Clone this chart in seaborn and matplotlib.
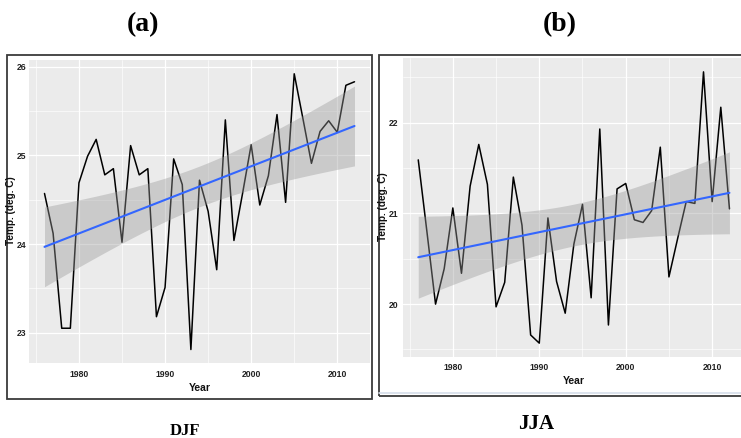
import numpy as np
import pandas as pd
import matplotlib
matplotlib.use("Agg")
import matplotlib.pyplot as plt
import seaborn as sns
from matplotlib.patches import Rectangle
from matplotlib.lines import Line2D
from matplotlib.ticker import MultipleLocator, FixedLocator
from matplotlib import font_manager

# ---------------- data ----------------
years = list(range(1976, 2013))
djf_temp = [24.57, 24.12, 23.05, 23.05, 24.69, 24.99, 25.18, 24.78, 24.85, 24.02,
            25.11, 24.78, 24.85, 23.18, 23.51, 24.96, 24.67, 22.81, 24.72, 24.37,
            23.71, 25.40, 24.04, 24.57, 25.12, 24.44, 24.77, 25.46, 24.47, 25.92,
            25.42, 24.91, 25.27, 25.39, 25.26, 25.79, 25.83]
jja_temp = [21.59, 20.80, 20.00, 20.39, 21.06, 20.34, 21.30, 21.76, 21.32, 19.97,
            20.24, 21.40, 20.87, 19.66, 19.57, 20.95, 20.25, 19.90, 20.66, 21.10,
            20.07, 21.93, 19.77, 21.27, 21.33, 20.93, 20.90, 21.03, 21.73, 20.30,
            20.72, 21.13, 21.11, 22.56, 21.13, 22.17, 21.05]
panel_titles = ["(a)", "(b)"]
season_labels = ["DJF", "JJA"]
x_ticks = [1980, 1990, 2000, 2010]
djf_yticks = [23, 24, 25, 26]
jja_yticks = [20, 21, 22]
y_label = "Temp. (deg. C)"
x_label = "Year"

# ---------------- style ----------------
sns.set_style("darkgrid", {"axes.facecolor": "#EBEBEB", "grid.color": "white"})
plt.rcParams["font.family"] = ["Liberation Sans", "DejaVu Sans"]

installed = {f.name for f in font_manager.fontManager.ttflist}
NARROW = [f for f in ["Liberation Sans Narrow", "DejaVu Sans Condensed"] if f in installed]
NARROW = (NARROW[:1] or []) + ["Liberation Sans", "DejaVu Sans"]
has_narrow = NARROW[0] not in ("Liberation Sans",)
TICK_SIZE = 7 if has_narrow else 6.2

W, H = 741, 438
fig = plt.figure(figsize=(W / 100, H / 100), dpi=100)
fig.patch.set_facecolor("white")


def box(x0, y0, x1, y1):
    return [x0 / W, 1 - y1 / H, (x1 - x0) / W, (y1 - y0) / H]


def fx(x):
    return x / W


def fy(y):
    return 1 - y / H


def panel(rect, vals, yticks, ylab_px, xlab_px, ytick_pad):
    ax = fig.add_axes(box(*rect))
    df = pd.DataFrame({"year": years, "temp": vals})
    sns.lineplot(data=df, x="year", y="temp", ax=ax, color="black", lw=1.1, zorder=2)
    # analytic 95% confidence band of linear fit (as ggplot geom_smooth)
    x = np.array(years, float)
    y = np.array(vals, float)
    n = len(x)
    b, a = np.polyfit(x, y, 1)
    resid = y - (a + b * x)
    s = np.sqrt(np.sum(resid ** 2) / (n - 2))
    xs = np.linspace(x.min(), x.max(), 80)
    se = s * np.sqrt(1 / n + (xs - x.mean()) ** 2 / np.sum((x - x.mean()) ** 2))
    t = 2.03
    fit = a + b * xs
    ax.fill_between(xs, fit - t * se, fit + t * se, color="#999999", alpha=0.4,
                    lw=0, zorder=3)
    sns.regplot(data=df, x="year", y="temp", ax=ax, scatter=False, ci=None,
                color="#3366FF", line_kws={"lw": 1.5, "zorder": 4}, truncate=True)
    ax.set_xlim(1976 - 1.8, 2012 + 1.8)
    lo, hi = min(vals), max(vals)
    pad = (hi - lo) * 0.05
    ax.set_ylim(lo - pad, hi + pad)
    ax.xaxis.set_major_locator(FixedLocator(x_ticks))
    ax.xaxis.set_minor_locator(FixedLocator([1975, 1985, 1995, 2005]))
    ax.yaxis.set_major_locator(FixedLocator(yticks))
    ax.yaxis.set_minor_locator(MultipleLocator(0.5))
    ax.grid(which="major", color="white", lw=0.9)
    ax.grid(which="minor", color="white", lw=0.45)
    ax.set_axisbelow(True)
    for sp in ax.spines.values():
        sp.set_visible(False)
    ax.tick_params(axis="both", which="major", length=1.5, width=0.6, color="#555555",
                   labelsize=TICK_SIZE, labelcolor="#222222")
    ax.tick_params(axis="x", which="major", pad=3)
    ax.tick_params(axis="y", which="major", pad=ytick_pad)
    ax.tick_params(which="minor", length=0)
    for lab in ax.get_xticklabels() + ax.get_yticklabels():
        lab.set_family(NARROW)
        lab.set_fontweight("bold")
    ax.set_xlabel("")
    ax.set_ylabel("")
    fig.text(fx(ylab_px[0]), fy(ylab_px[1]), y_label, rotation=90, ha="center",
             va="center", fontsize=7.2, fontweight="bold", color="#111111")
    fig.text(fx(xlab_px[0]), fy(xlab_px[1]), x_label, ha="center", va="center",
             fontsize=7.5, fontweight="bold", color="#111111", family=NARROW)
    return ax


ax1 = panel((29, 60, 370, 363.3), djf_temp, djf_yticks, (11, 211), (200, 388), 0.3)
ax2 = panel((402.7, 58.3, 745, 356.7), jja_temp, jja_yticks, (383, 207), (573.5, 381.5), 1.5)

# frames around panels
fig.add_artist(Rectangle((fx(7), fy(399)), (372 - 7) / W, (399 - 55) / H,
                         transform=fig.transFigure, fill=False, ec="#3a3a3a", lw=1.3))
fig.add_artist(Line2D([fx(379), fx(760)], [fy(392.7), fy(392.7)],
                      transform=fig.transFigure, color="#D5DEEA", lw=1.2))
fig.add_artist(Rectangle((fx(379), fy(396)), (760 - 379) / W, (396 - 55) / H,
                         transform=fig.transFigure, fill=False, ec="#3a3a3a", lw=1.3))

# titles and season labels
SERIF = ["Liberation Serif", "DejaVu Serif"]
fig.text(fx(143), fy(25), panel_titles[0], ha="center", va="center", fontsize=20,
         fontweight="bold", family=SERIF, color="black")
fig.text(fx(560), fy(25), panel_titles[1], ha="center", va="center", fontsize=20,
         fontweight="bold", family=SERIF, color="black")
fig.text(fx(185), fy(431), season_labels[0], ha="center", va="center", fontsize=12,
         fontweight="bold", family=SERIF, color="black")
fig.text(fx(536), fy(424), season_labels[1], ha="center", va="center", fontsize=15,
         fontweight="bold", family=SERIF, color="black")

fig.savefig("out.png", dpi=100)
